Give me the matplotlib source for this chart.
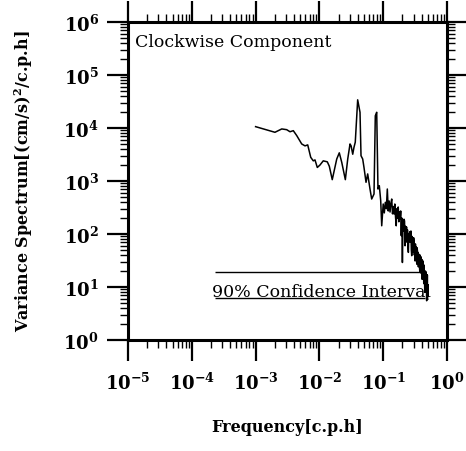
import matplotlib
matplotlib.use("Agg")
import numpy as np
import matplotlib.pyplot as plt
from matplotlib.ticker import LogLocator, FuncFormatter, NullFormatter

plt.rcParams['font.family'] = ['DejaVu Serif']
plt.rcParams['mathtext.fontset'] = 'custom'
plt.rcParams['mathtext.rm'] = 'DejaVu Serif:bold'
plt.rcParams['mathtext.it'] = 'DejaVu Serif:bold'
plt.rcParams['mathtext.bf'] = 'DejaVu Serif:bold'

# ---- data ----
freq_low = [0.00100, 0.00201, 0.00257, 0.00307, 0.00346, 0.00390, 0.00441, 0.00528,
            0.00595, 0.00656, 0.00731, 0.00802, 0.00853, 0.00927, 0.0102, 0.0115,
            0.0133, 0.0143, 0.0159, 0.0187, 0.0205, 0.0224, 0.0255, 0.0278,
            0.0302, 0.0314, 0.0333, 0.0348, 0.0365, 0.0398, 0.0433, 0.0449,
            0.0477, 0.0500, 0.0538, 0.0571, 0.0621, 0.0660, 0.0718, 0.0752,
            0.0791, 0.0828, 0.0869, 0.0914, 0.0948]
spec_low = [1.06e4, 8.3e3, 9.6e3, 9.3e3, 8.5e3, 8.9e3, 7.2e3, 5.0e3,
            4.6e3, 4.8e3, 2.8e3, 2.4e3, 2.5e3, 1.8e3, 2.0e3, 2.4e3,
            2.3e3, 1.9e3, 1.06e3, 2.6e3, 3.4e3, 2.25e3, 1.06e3, 2.6e3,
            5.0e3, 4.6e3, 3.2e3, 4.3e3, 5.4e3, 3.4e4, 1.98e4, 3.0e3,
            2.6e3, 1.8e3, 945, 1.36e3, 706, 457, 569, 1.7e4,
            1.98e4, 706, 815, 425, 143]

freq_high = [0.100, 0.104, 0.108, 0.112, 0.116, 0.120, 0.124, 0.128, 0.132, 0.136,
             0.140, 0.144, 0.148, 0.152, 0.156, 0.160, 0.164, 0.168, 0.172, 0.176,
             0.180, 0.184, 0.188, 0.192, 0.196, 0.200, 0.204, 0.208, 0.212, 0.216,
             0.220, 0.224, 0.228, 0.232, 0.236, 0.240, 0.244, 0.248, 0.252, 0.256,
             0.260, 0.264, 0.268, 0.272, 0.276, 0.280, 0.284, 0.288, 0.292, 0.296,
             0.300, 0.304, 0.308, 0.312, 0.316, 0.320, 0.324, 0.328, 0.332, 0.336,
             0.340, 0.344, 0.348, 0.352, 0.356, 0.360, 0.364, 0.368, 0.372, 0.376,
             0.380, 0.384, 0.388, 0.392, 0.396, 0.400, 0.404, 0.408, 0.412, 0.416,
             0.420, 0.424, 0.428, 0.432, 0.436, 0.440, 0.444, 0.448, 0.452, 0.456,
             0.460, 0.464, 0.468, 0.472, 0.476, 0.480, 0.484, 0.488, 0.492, 0.496,
             0.500]
spec_high = [368, 250, 396, 300, 706, 272, 420, 260, 380, 457,
             240, 330, 238, 368, 210, 143, 300, 200, 323, 170,
             260, 192, 272, 93, 200, 29, 150, 115, 190, 176,
             60, 140, 90, 136, 70, 120, 60, 45, 100, 75,
             110, 70, 95, 114, 50, 39, 90, 80, 45, 52,
             85, 74, 40, 60, 31, 65, 45, 57, 35, 27,
             55, 48, 30, 45, 24, 42, 28, 38, 22, 19,
             40, 30, 20, 37, 18, 25, 33, 14, 28, 14,
             31, 16, 22, 12, 26, 11.4, 20, 7.9, 18, 10,
             20, 8, 19, 9.2, 15, 5.5, 17, 8, 16.8, 6,
             5.9]

ci_upper = 19.2
ci_lower = 6.2
ci_xrange = [2.3e-4, 0.45]
ci_text = "90% Confidence Interval"
panel_title = "Clockwise Component"
xlabel = "Frequency[c.p.h]"
ylabel = "Variance Spectrum[(cm/s)$^{\\mathregular{2}}$/c.p.h]"

freq = freq_low + freq_high
spectrum = spec_low + spec_high

fig = plt.figure(figsize=(4.66, 4.52), dpi=100)
ax = fig.add_axes([128/466, 1 - 341/452, 319/466, 318/452])

ax.plot(freq, spectrum, color='black', lw=1.1)
ax.hlines([ci_upper, ci_lower], ci_xrange[0], ci_xrange[1], color='black', lw=1.0)
ax.text(2.07e-4, 6.9, ci_text, fontsize=12.5, va='baseline', ha='left')
ax.text(0.022, 0.925, panel_title, transform=ax.transAxes, fontsize=12.5,
        va='baseline', ha='left')

ax.set_xscale('log')
ax.set_yscale('log')
ax.set_xlim(1e-5, 1)
ax.set_ylim(1, 1e6)

fmt = FuncFormatter(lambda v, p: r'$10^{%d}$' % int(round(np.log10(v))))
for a in (ax.xaxis, ax.yaxis):
    a.set_major_locator(LogLocator(base=10, numticks=20))
    a.set_minor_locator(LogLocator(base=10, subs=range(2, 10), numticks=20))
    a.set_minor_formatter(NullFormatter())
    a.set_major_formatter(fmt)

ax.tick_params(which='major', direction='out', length=15, width=1.6,
               top=True, right=True, labelsize=13)
ax.tick_params(which='minor', direction='out', length=6, width=1.0,
               top=True, right=True)
ax.tick_params(axis='x', which='major', pad=8)
ax.tick_params(axis='y', which='major', pad=6)
for s in ax.spines.values():
    s.set_linewidth(2.2)

fig.text(287/466, 1 - 428/452, xlabel, fontsize=11.5, fontweight='bold',
         ha='center', va='center')
fig.text(24/466, 1 - 181/452, ylabel, fontsize=11.5, fontweight='bold',
         ha='center', va='center', rotation=90)

fig.savefig('out.png', dpi=100)
